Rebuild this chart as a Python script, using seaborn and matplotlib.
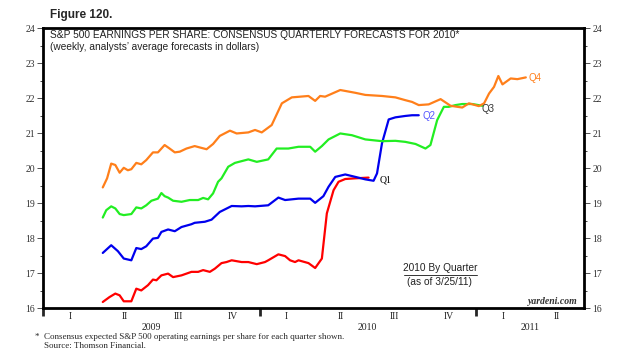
"""
S&P 500 EPS: consensus quarterly forecasts for 2010 (Yardeni Figure 120 recreation).
"""

import matplotlib

matplotlib.use("Agg")
import matplotlib.pyplot as plt
import matplotlib.transforms as mtransforms
import pandas as pd
import seaborn as sns

# --- data (x = decimal year, y = dollars) ---
q1_x = [2009.275, 2009.306, 2009.333, 2009.353, 2009.372, 2009.407, 2009.430, 2009.453,
        2009.484, 2009.507, 2009.523, 2009.546, 2009.577, 2009.600, 2009.639, 2009.685,
        2009.716, 2009.739, 2009.770, 2009.793, 2009.824, 2009.847, 2009.871, 2009.917,
        2009.948, 2009.987, 2010.025, 2010.040, 2010.087, 2010.118, 2010.141, 2010.164,
        2010.180, 2010.226, 2010.257, 2010.288, 2010.311, 2010.342, 2010.365, 2010.396,
        2010.443, 2010.504]
q1_y = [16.18, 16.32, 16.42, 16.37, 16.20, 16.20, 16.56, 16.51,
        16.66, 16.82, 16.80, 16.94, 16.99, 16.89, 16.94, 17.04,
        17.04, 17.09, 17.04, 17.13, 17.29, 17.32, 17.37, 17.32,
        17.32, 17.26, 17.32, 17.37, 17.54, 17.49, 17.37, 17.32,
        17.37, 17.29, 17.15, 17.42, 18.71, 19.37, 19.61, 19.69,
        19.71, 19.73]

q2_x = [2009.275, 2009.314, 2009.345, 2009.372, 2009.407, 2009.430, 2009.453, 2009.476,
        2009.507, 2009.530, 2009.546, 2009.577, 2009.608, 2009.639, 2009.685, 2009.700,
        2009.747, 2009.778, 2009.816, 2009.871, 2009.917, 2009.948, 2009.979, 2010.040,
        2010.087, 2010.118, 2010.180, 2010.234, 2010.257, 2010.295, 2010.319, 2010.350,
        2010.396, 2010.443, 2010.489, 2010.527, 2010.543, 2010.566, 2010.597, 2010.628,
        2010.674, 2010.705, 2010.736]
q2_y = [17.58, 17.80, 17.63, 17.42, 17.37, 17.72, 17.69, 17.77,
        17.99, 18.01, 18.18, 18.25, 18.20, 18.32, 18.40, 18.44,
        18.47, 18.53, 18.75, 18.92, 18.91, 18.92, 18.91, 18.94,
        19.16, 19.09, 19.13, 19.13, 19.01, 19.20, 19.47, 19.75,
        19.82, 19.75, 19.68, 19.64, 19.85, 20.71, 21.39, 21.45,
        21.49, 21.51, 21.51]

q3_x = [2009.275, 2009.291, 2009.314, 2009.333, 2009.353, 2009.372, 2009.407, 2009.430,
        2009.453, 2009.476, 2009.500, 2009.530, 2009.546, 2009.561, 2009.577, 2009.600,
        2009.639, 2009.677, 2009.716, 2009.739, 2009.762, 2009.785, 2009.808, 2009.824,
        2009.855, 2009.886, 2009.948, 2009.987, 2010.025, 2010.040, 2010.079, 2010.133,
        2010.180, 2010.234, 2010.257, 2010.288, 2010.319, 2010.373, 2010.427, 2010.489,
        2010.566, 2010.628, 2010.674, 2010.721, 2010.767, 2010.790, 2010.821, 2010.852,
        2010.875, 2010.906, 2010.937, 2010.984, 2011.030]
q3_y = [18.59, 18.80, 18.91, 18.85, 18.69, 18.66, 18.69, 18.88,
        18.85, 18.94, 19.07, 19.13, 19.29, 19.20, 19.16, 19.07,
        19.04, 19.09, 19.09, 19.15, 19.11, 19.28, 19.61, 19.71,
        20.04, 20.15, 20.25, 20.18, 20.23, 20.25, 20.56, 20.56,
        20.61, 20.61, 20.47, 20.63, 20.82, 20.99, 20.94, 20.82,
        20.77, 20.78, 20.75, 20.69, 20.56, 20.66, 21.37, 21.75,
        21.75, 21.80, 21.83, 21.83, 21.78]

q4_x = [2009.275, 2009.295, 2009.314, 2009.333, 2009.353, 2009.372, 2009.391, 2009.407,
        2009.430, 2009.453, 2009.476, 2009.507, 2009.530, 2009.561, 2009.584, 2009.608,
        2009.631, 2009.662, 2009.700, 2009.724, 2009.755, 2009.785, 2009.816, 2009.863,
        2009.894, 2009.948, 2009.979, 2010.010, 2010.056, 2010.103, 2010.149, 2010.226,
        2010.257, 2010.280, 2010.303, 2010.373, 2010.443, 2010.489, 2010.566, 2010.628,
        2010.674, 2010.705, 2010.736, 2010.782, 2010.837, 2010.883, 2010.937, 2010.968,
        2011.014, 2011.038, 2011.061, 2011.084, 2011.104, 2011.123, 2011.161, 2011.192,
        2011.231]
q4_y = [19.45, 19.71, 20.13, 20.09, 19.87, 20.01, 19.94, 19.97,
        20.15, 20.11, 20.23, 20.45, 20.45, 20.66, 20.56, 20.45,
        20.47, 20.56, 20.63, 20.59, 20.54, 20.69, 20.92, 21.07,
        20.99, 21.02, 21.09, 21.02, 21.23, 21.85, 22.02, 22.06,
        21.92, 22.06, 22.04, 22.23, 22.15, 22.09, 22.06, 22.02,
        21.94, 21.89, 21.80, 21.82, 21.97, 21.78, 21.73, 21.85,
        21.77, 21.85, 22.13, 22.32, 22.63, 22.39, 22.56, 22.54,
        22.59]

quarters = ["Q1", "Q2", "Q3", "Q4"]
colors = {"Q1": "#ff0000", "Q2": "#0000ee", "Q3": "#22ee22", "Q4": "#ff7f1a"}

quarter_labels = ["I", "II", "III", "IV"]
years = [2009, 2010, 2011]
y_ticks = list(range(16, 25))

SERIF = ["Liberation Serif", "DejaVu Serif"]
SANS = ["Liberation Sans", "DejaVu Sans"]


def build_frame() -> pd.DataFrame:
    parts = []
    for name, xs, ys in zip(quarters, [q1_x, q2_x, q3_x, q4_x], [q1_y, q2_y, q3_y, q4_y]):
        parts.append(pd.DataFrame({"year": xs, "eps": ys, "quarter": name}))
    return pd.concat(parts, ignore_index=True)


def main() -> None:
    sns.set_style("white")
    plt.rcParams["font.family"] = SANS

    W, H = 640, 355
    fig = plt.figure(figsize=(W / 100, H / 100), dpi=100)
    left, right, top, bottom = 43.3, 584.0, 28.0, 308.3
    ax = fig.add_axes([left / W, 1 - bottom / H, (right - left) / W, (bottom - top) / H])

    df = build_frame()
    sns.lineplot(data=df, x="year", y="eps", hue="quarter", palette=colors,
                 estimator=None, sort=False, linewidth=1.6, legend=False, ax=ax)

    ax.set_xlim(2009.0, 2011.5)
    ax.set_ylim(16, 24)
    ax.set_xlabel("")
    ax.set_ylabel("")

    for sp in ax.spines.values():
        sp.set_linewidth(2.0)
        sp.set_color("black")
        sp.set_visible(True)

    # y axis: labels on both sides, half-unit minor ticks
    ax.set_yticks(y_ticks)
    ax.set_yticks([v + 0.5 for v in y_ticks[:-1]], minor=True)
    ax.tick_params(axis="y", which="major", direction="out", length=4, width=0.6,
                   left=True, right=True, labelleft=True, labelright=True,
                   labelsize=7, pad=2, colors="#333333")
    ax.tick_params(axis="y", which="minor", direction="out", length=2.5, width=0.6,
                   left=True, right=True)
    for lab in ax.get_yticklabels():
        lab.set_family(SERIF)

    # x axis: thick year separators, quarter/year labels as text
    ax.set_xticks(years)
    ax.tick_params(axis="x", which="major", direction="out", length=5.5, width=2.0,
                   bottom=True, labelbottom=False)
    trans = mtransforms.blended_transform_factory(ax.transData, ax.transAxes)
    for yr in years:
        for i, ql in enumerate(quarter_labels):
            xc = yr + 0.125 + i * 0.25
            if xc > 2011.5:
                continue
            ax.text(xc, -0.031, ql, transform=trans, ha="center", va="center",
                    fontsize=7, family=SERIF, color="#222222")
        xc = yr + 0.5 if yr < 2011 else yr + 0.25
        ax.text(xc, -0.067, str(yr), transform=trans, ha="center", va="center",
                fontsize=7, family=SERIF, color="#222222")

    # series end labels
    ax.text(2010.557, 19.66, "Q1", fontsize=7, family=SERIF, color="black", va="center")
    ax.text(2010.751, 21.49, "Q2", fontsize=7, color="#5555ff", va="center")
    ax.text(2011.028, 21.69, "Q3", fontsize=7, color="#333333", va="center")
    ax.text(2011.245, 22.57, "Q4", fontsize=7, color="#ff7f1a", va="center")

    # in-plot text
    def fx(px):
        return px / W

    def fy(py):
        return 1 - py / H

    fig.text(fx(50), fy(15), "Figure 120.", fontsize=8.5, fontweight="bold",
             ha="left", va="center")
    fig.text(fx(50), fy(35.5), "S&P 500 EARNINGS PER SHARE: CONSENSUS QUARTERLY FORECASTS FOR 2010*",
             fontsize=7.25, ha="left", va="center", color="#222222")
    fig.text(fx(50), fy(46.5), "(weekly, analysts\u2019 average forecasts in dollars)",
             fontsize=7.25, ha="left", va="center", color="#222222")

    fig.text(fx(440), fy(268), "2010 By Quarter", fontsize=7.25, ha="center", va="center",
             color="#222222")
    fig.lines.append(plt.Line2D([fx(404), fx(477)], [fy(274.5), fy(274.5)],
                                transform=fig.transFigure, color="#333333", linewidth=0.7))
    fig.text(fx(439), fy(282), "(as of 3/25/11)", fontsize=7.25, ha="center", va="center",
             color="#222222")
    fig.text(fx(578), fy(301.5), "yardeni.com", fontsize=7, family=SERIF, style="italic",
             fontweight="bold", ha="right", va="center", color="#333333")

    fig.text(fx(35), fy(337), "*", fontsize=6.5, family=SERIF, ha="left", va="center")
    fig.text(fx(43.5), fy(337), "Consensus expected S&P 500 operating earnings per share for each quarter shown.",
             fontsize=6.5, family=SERIF, ha="left", va="center")
    fig.text(fx(43.5), fy(346), "Source: Thomson Financial.", fontsize=6.5, family=SERIF,
             ha="left", va="center")

    fig.savefig("out.png", dpi=100)
    plt.close(fig)


if __name__ == "__main__":
    main()
